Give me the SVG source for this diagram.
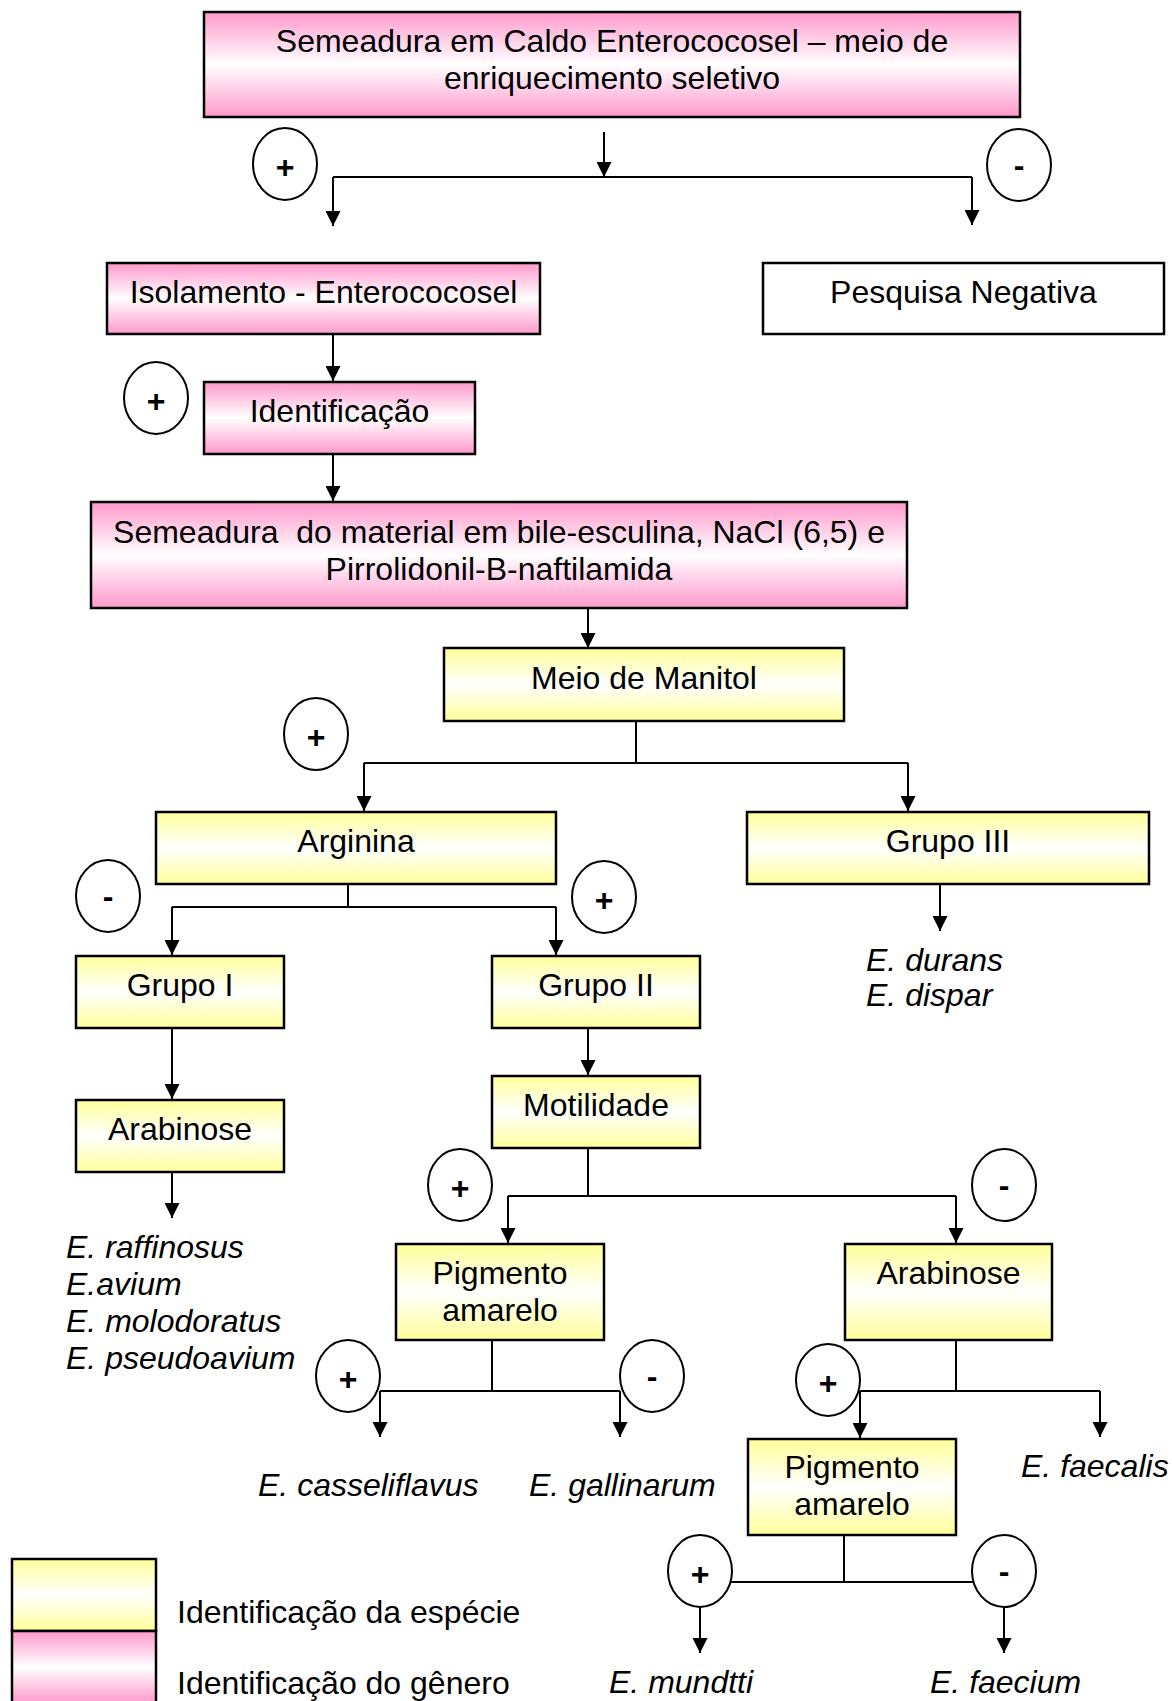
<svg xmlns="http://www.w3.org/2000/svg" width="1172" height="1701" viewBox="0 0 1172 1701">
<defs>
<linearGradient id="pink" x1="0" y1="0" x2="0" y2="1">
<stop offset="0" stop-color="#FF99CC"/>
<stop offset="0.5" stop-color="#FFFFFF"/>
<stop offset="1" stop-color="#FF99CC"/>
</linearGradient>
<linearGradient id="yellow" x1="0" y1="0" x2="0" y2="1">
<stop offset="0" stop-color="#FFFF99"/>
<stop offset="0.5" stop-color="#FFFFFF"/>
<stop offset="1" stop-color="#FFFF99"/>
</linearGradient>
<marker id="arr" markerUnits="userSpaceOnUse" markerWidth="15" markerHeight="15" refX="15" refY="7.5" orient="auto" viewBox="0 0 15 15">
<path d="M0,0 L15,7.5 L0,15 z" fill="#000"/>
</marker>
</defs>
<style>
.pk{fill:url(#pink);stroke:#000;stroke-width:2.5}
.yl{fill:url(#yellow);stroke:#000;stroke-width:2.5}
.wh{fill:#fff;stroke:#000;stroke-width:2.5}
.t{font-family:"Liberation Sans",Arial,sans-serif;font-size:32px;fill:#000;text-anchor:middle}
.i{font-family:"Liberation Sans",Arial,sans-serif;font-size:32px;font-style:italic;fill:#000}
.l{font-family:"Liberation Sans",Arial,sans-serif;font-size:32px;fill:#000}
.c line, .c path{stroke:#000;stroke-width:2;fill:none}
.a{marker-end:url(#arr)}
.ov ellipse{fill:#fff;stroke:#000;stroke-width:2}
.ov text{font-family:"Liberation Sans",Arial,sans-serif;font-size:32px;font-weight:bold;fill:#000;text-anchor:middle}
</style>
<rect width="1172" height="1701" fill="#fff"/>

<g id="connectors" class="c">
<path class="a" d="M604 132 V177"/>
<path d="M333 177 H972"/>
<path class="a" d="M333 177 V226"/>
<path class="a" d="M972 177 V225"/>
<path class="a" d="M333 334 V381"/>
<path class="a" d="M333 454 V501"/>
<path class="a" d="M588 608 V648"/>
<path d="M636 721 V763"/>
<path d="M364 763 H908"/>
<path class="a" d="M364 763 V811"/>
<path class="a" d="M908 763 V811"/>
<path d="M348 884 V907"/>
<path d="M172 907 H556"/>
<path class="a" d="M172 907 V955"/>
<path class="a" d="M556 907 V955"/>
<path class="a" d="M940 884 V931"/>
<path class="a" d="M172 1028 V1099"/>
<path class="a" d="M172 1172 V1218"/>
<path class="a" d="M588 1028 V1075"/>
<path d="M588 1148 V1196"/>
<path d="M508 1196 H956"/>
<path class="a" d="M508 1196 V1243"/>
<path class="a" d="M956 1196 V1243"/>
<path d="M492 1340 V1391"/>
<path d="M380 1391 H620"/>
<path class="a" d="M380 1391 V1437"/>
<path class="a" d="M620 1391 V1437"/>
<path d="M956 1340 V1391"/>
<path d="M860 1391 H1100"/>
<path class="a" d="M860 1391 V1438"/>
<path class="a" d="M1100 1391 V1437"/>
<path d="M844 1535 V1582"/>
<path d="M700 1582 H1004"/>
<path class="a" d="M700 1607 V1653"/>
<path class="a" d="M1004 1607 V1653"/>
</g>

<g id="n-top">
<rect class="pk" x="204" y="12" width="816" height="105"/>
<text class="t" x="612" y="52">Semeadura em Caldo Enterococosel – meio de</text>
<text class="t" x="612" y="89">enriquecimento seletivo</text>
</g>
<g id="n-isolamento">
<rect class="pk" x="107" y="263" width="433" height="71"/>
<text class="t" x="323.5" y="303">Isolamento - Enterococosel</text>
</g>
<g id="n-negativa">
<rect class="wh" x="763" y="263" width="401" height="71"/>
<text class="t" x="963.5" y="303">Pesquisa Negativa</text>
</g>
<g id="n-identificacao">
<rect class="pk" x="204" y="382" width="271" height="72"/>
<text class="t" x="339.5" y="422">Identificação</text>
</g>
<g id="n-semeadura">
<rect class="pk" x="91" y="502" width="816" height="106"/>
<text class="t" x="499" y="543" xml:space="preserve">Semeadura  do material em bile-esculina, NaCl (6,5) e</text>
<text class="t" x="499" y="580">Pirrolidonil-B-naftilamida</text>
</g>
<g id="n-manitol">
<rect class="yl" x="444" y="648" width="400" height="73"/>
<text class="t" x="644" y="689">Meio de Manitol</text>
</g>
<g id="n-arginina">
<rect class="yl" x="156" y="812" width="400" height="72"/>
<text class="t" x="356" y="852">Arginina</text>
</g>
<g id="n-grupo3">
<rect class="yl" x="747" y="812" width="402" height="72"/>
<text class="t" x="948" y="852">Grupo III</text>
</g>
<g id="s-grupo3">
<text class="i" x="866" y="971">E. durans</text>
<text class="i" x="866" y="1006">E. dispar</text>
</g>
<g id="n-grupo1">
<rect class="yl" x="76" y="956" width="208" height="72"/>
<text class="t" x="180" y="996">Grupo I</text>
</g>
<g id="n-grupo2">
<rect class="yl" x="492" y="956" width="208" height="72"/>
<text class="t" x="596" y="996">Grupo II</text>
</g>
<g id="n-arabinose1">
<rect class="yl" x="76" y="1100" width="208" height="72"/>
<text class="t" x="180" y="1140">Arabinose</text>
</g>
<g id="s-grupo1">
<text class="i" x="66" y="1258">E. raffinosus</text>
<text class="i" x="66" y="1295">E.avium</text>
<text class="i" x="66" y="1332">E. molodoratus</text>
<text class="i" x="66" y="1369">E. pseudoavium</text>
</g>
<g id="n-motilidade">
<rect class="yl" x="492" y="1076" width="208" height="72"/>
<text class="t" x="596" y="1116">Motilidade</text>
</g>
<g id="n-pigmento1">
<rect class="yl" x="396" y="1244" width="208" height="96"/>
<text class="t" x="500" y="1284">Pigmento</text>
<text class="t" x="500" y="1321">amarelo</text>
</g>
<g id="n-arabinose2">
<rect class="yl" x="845" y="1244" width="207" height="96"/>
<text class="t" x="948.5" y="1284">Arabinose</text>
</g>
<g id="s-pigmento1">
<text class="i" x="258" y="1496">E. casseliflavus</text>
<text class="i" x="529" y="1496">E. gallinarum</text>
</g>
<g id="s-faecalis">
<text class="i" x="1021" y="1477">E. faecalis</text>
</g>
<g id="n-pigmento2">
<rect class="yl" x="748" y="1439" width="208" height="96"/>
<text class="t" x="852" y="1478">Pigmento</text>
<text class="t" x="852" y="1515">amarelo</text>
</g>
<g id="s-pigmento2">
<text class="i" x="609" y="1693">E. mundtti</text>
<text class="i" x="930" y="1693">E. faecium</text>
</g>

<g id="signs" class="ov">
<ellipse cx="285" cy="164" rx="32" ry="36"/><text x="285" y="178">+</text>
<ellipse cx="1019" cy="165" rx="32" ry="36"/><text x="1019" y="176">-</text>
<ellipse cx="156" cy="398" rx="32" ry="36"/><text x="156" y="412">+</text>
<ellipse cx="316" cy="734" rx="32" ry="36"/><text x="316" y="748">+</text>
<ellipse cx="108" cy="896" rx="32" ry="36"/><text x="108" y="907">-</text>
<ellipse cx="604" cy="897" rx="32" ry="36"/><text x="604" y="911">+</text>
<ellipse cx="460" cy="1185" rx="32" ry="36"/><text x="460" y="1199">+</text>
<ellipse cx="1004" cy="1185" rx="32" ry="36"/><text x="1004" y="1196">-</text>
<ellipse cx="348" cy="1376" rx="32" ry="36"/><text x="348" y="1390">+</text>
<ellipse cx="652" cy="1376" rx="32" ry="36"/><text x="652" y="1387">-</text>
<ellipse cx="828" cy="1380" rx="32" ry="36"/><text x="828" y="1394">+</text>
<ellipse cx="700" cy="1571" rx="32" ry="36"/><text x="700" y="1585">+</text>
<ellipse cx="1004" cy="1571" rx="32" ry="36"/><text x="1004" y="1582">-</text>
</g>

<g id="legend">
<rect class="yl" x="12" y="1559" width="144" height="72"/>
<rect class="pk" x="12" y="1631" width="144" height="72"/>
<text class="l" x="177" y="1623">Identificação da espécie</text>
<text class="l" x="177" y="1694">Identificação do gênero</text>
</g>
</svg>
